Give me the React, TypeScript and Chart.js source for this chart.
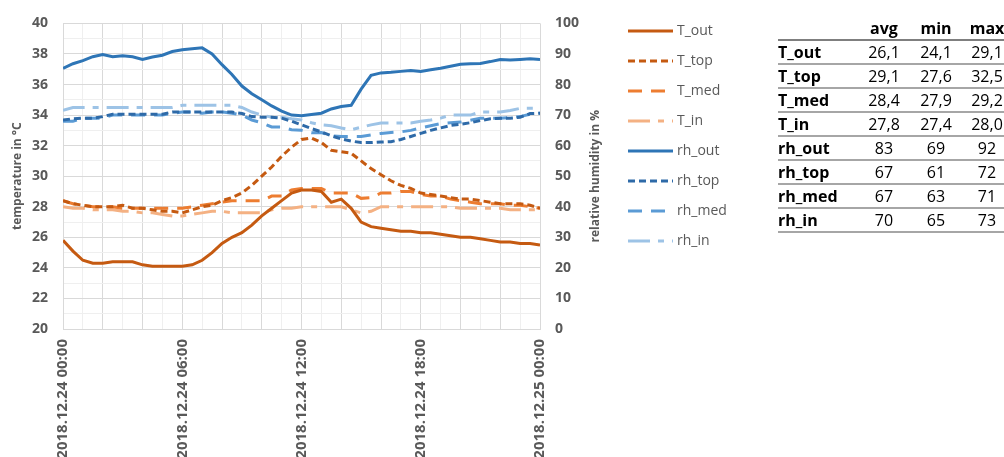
import React, { useEffect, useRef } from 'react';
import { Chart, registerables } from 'chart.js';

Chart.register(...registerables);

// ---------- data ----------
const hours = [0, 0.5, 1, 1.5, 2, 2.5, 3, 3.5, 4, 4.5, 5, 5.5, 6, 6.5, 7, 7.5, 8, 8.5, 9, 9.5, 10, 10.5, 11, 11.5, 12, 12.5, 13, 13.5, 14, 14.5, 15, 15.5, 16, 16.5, 17, 17.5, 18, 18.5, 19, 19.5, 20, 20.5, 21, 21.5, 22, 22.5, 23, 23.5, 24];

const T_out = [25.8, 25.1, 24.5, 24.3, 24.3, 24.4, 24.4, 24.4, 24.2, 24.1, 24.1, 24.1, 24.1, 24.2, 24.5, 25.0, 25.6, 26.0, 26.3, 26.8, 27.4, 27.9, 28.4, 28.9, 29.1, 29.1, 29.0, 28.3, 28.5, 27.9, 27.0, 26.7, 26.6, 26.5, 26.4, 26.4, 26.3, 26.3, 26.2, 26.1, 26.0, 26.0, 25.9, 25.8, 25.7, 25.7, 25.6, 25.6, 25.5];
const T_top = [28.4, 28.2, 28.1, 28.0, 28.0, 28.0, 28.1, 27.9, 27.9, 27.8, 27.7, 27.7, 27.6, 27.8, 28.0, 28.1, 28.4, 28.6, 28.9, 29.4, 30.0, 30.6, 31.3, 31.9, 32.4, 32.5, 32.2, 31.7, 31.6, 31.5, 31.0, 30.5, 30.1, 29.7, 29.4, 29.2, 28.9, 28.8, 28.7, 28.6, 28.5, 28.5, 28.4, 28.3, 28.2, 28.2, 28.2, 28.1, 27.9];
const T_med = [28.4, 28.2, 28.1, 28.0, 28.0, 28.0, 27.9, 27.9, 27.9, 27.9, 27.9, 27.9, 27.9, 28.0, 28.1, 28.2, 28.3, 28.4, 28.4, 28.4, 28.4, 28.7, 28.7, 29.1, 29.2, 29.2, 29.2, 28.9, 28.9, 28.9, 28.55, 28.6, 28.9, 28.9, 29.0, 29.0, 28.8, 28.7, 28.7, 28.5, 28.4, 28.3, 28.2, 28.2, 28.2, 28.1, 28.1, 28.0, 27.9];
const T_in = [28.0, 27.9, 27.9, 27.8, 27.8, 27.8, 27.7, 27.7, 27.6, 27.6, 27.5, 27.4, 27.4, 27.5, 27.6, 27.7, 27.7, 27.6, 27.6, 27.6, 27.6, 27.8, 27.9, 27.9, 28.0, 28.0, 28.0, 28.0, 28.0, 27.8, 27.6, 27.7, 28.0, 28.0, 28.0, 28.0, 28.0, 28.0, 28.0, 28.0, 27.9, 27.9, 27.9, 27.9, 27.9, 27.8, 27.8, 27.8, 27.8];
const rh_out = [85.3, 86.8, 87.8, 89.1, 89.8, 89.1, 89.4, 89.1, 88.2, 89.0, 89.6, 90.8, 91.4, 91.7, 92.0, 90.0, 86.5, 83.3, 79.5, 77.0, 75.0, 73.0, 71.3, 70.0, 69.8, 70.2, 70.6, 72.0, 72.8, 73.2, 78.5, 83.0, 83.8, 84.0, 84.3, 84.6, 84.3, 84.8, 85.3, 86.0, 86.6, 86.8, 86.9, 87.5, 88.2, 88.0, 88.2, 88.4, 88.2];
const rh_top = [68.4, 68.8, 69.0, 69.0, 69.5, 70.3, 70.3, 70.3, 70.3, 70.3, 70.3, 71.0, 71.0, 71.0, 71.0, 71.0, 71.0, 71.0, 70.5, 69.5, 69.3, 69.3, 69.0, 68.0, 66.8, 65.6, 64.5, 63.2, 62.2, 61.5, 61.0, 61.0, 61.2, 61.3, 62.0, 63.0, 64.0, 65.0, 65.8, 66.6, 67.0, 67.5, 68.2, 68.8, 69.0, 69.0, 69.3, 70.5, 70.6];
const rh_med = [68.0, 68.0, 69.0, 69.0, 69.0, 70.0, 70.0, 70.0, 70.0, 70.0, 70.0, 70.6, 71.0, 71.0, 70.6, 71.0, 71.0, 70.6, 70.0, 68.4, 67.5, 66.1, 66.1, 65.2, 65.0, 64.2, 64.3, 63.2, 63.0, 63.0, 63.0, 63.5, 64.0, 64.3, 64.5, 65.0, 65.8, 66.5, 67.2, 67.5, 67.7, 68.3, 69.0, 69.0, 69.0, 69.2, 69.5, 70.3, 70.6];
const rh_in = [71.6, 72.5, 72.5, 72.5, 72.5, 72.5, 72.5, 72.5, 72.5, 72.5, 72.5, 72.5, 73.2, 73.2, 73.2, 73.2, 73.2, 73.2, 72.5, 71.0, 70.0, 69.3, 69.3, 68.8, 68.4, 67.5, 66.8, 66.5, 65.8, 65.2, 66.0, 66.8, 67.4, 67.4, 67.4, 67.4, 68.0, 68.4, 69.0, 70.0, 70.0, 70.0, 71.0, 71.0, 71.0, 71.5, 72.2, 72.2, 72.2];

const seriesNames = ['T_out', 'T_top', 'T_med', 'T_in', 'rh_out', 'rh_top', 'rh_med', 'rh_in'];
const seriesValues = [T_out, T_top, T_med, T_in, rh_out, rh_top, rh_med, rh_in];

const xTickHours = [0, 6, 12, 18, 24];
const xTickLabels = ['2018.12.24 00:00', '2018.12.24 06:00', '2018.12.24 12:00', '2018.12.24 18:00', '2018.12.25 00:00'];

const leftAxisTitle = 'temperature in °C';
const rightAxisTitle = 'relative humidity in %';

const statHeaders = ['avg', 'min', 'max'];
const statAvg = ['26,1', '29,1', '28,4', '27,8', '83', '67', '67', '70'];
const statMin = ['24,1', '27,6', '27,9', '27,4', '69', '61', '63', '65'];
const statMax = ['29,1', '32,5', '29,2', '28,0', '92', '72', '71', '73'];

// ---------- styles ----------
const seriesColors = ['#C55A11', '#C55A11', '#ED7D31', '#F4B183', '#2E75B6', '#2E6AA8', '#5B9BD5', '#9DC3E6'];
const seriesDashes = [[], [7, 4], [14, 9], [22, 8, 6, 8], [], [7, 4], [14, 9], [22, 8, 6, 8]];
const seriesAxis = ['y', 'y', 'y', 'y', 'y2', 'y2', 'y2', 'y2'];

const FONT = '"Open Sans", "Liberation Sans", sans-serif';
const TEXT_GREY = '#595959';

const gridColor = (ctx: any) => {
  const v = ctx.tick ? ctx.tick.value : 0;
  return Math.round(v) % 2 === 0 ? '#D9D9D9' : '#EFEFEF';
};

const overlayPlugin = {
  id: 'overlay',
  afterDraw(chart: any) {
    const ctx = chart.ctx;
    const area = chart.chartArea;
    const midY = (area.top + area.bottom) / 2;
    ctx.save();
    // axis titles (both read bottom-to-top)
    ctx.fillStyle = TEXT_GREY;
    ctx.font = `bold 12px ${FONT}`;
    ctx.textAlign = 'center';
    ctx.textBaseline = 'middle';
    ctx.save();
    ctx.translate(18, midY);
    ctx.rotate(-Math.PI / 2);
    ctx.fillText(leftAxisTitle, 0, 0);
    ctx.restore();
    ctx.save();
    ctx.translate(596, midY);
    ctx.rotate(-Math.PI / 2);
    ctx.fillText(rightAxisTitle, 0, 0);
    ctx.restore();

    // legend
    const lx = 628;
    const ly = 31;
    const step = 30;
    chart.data.datasets.forEach((ds: any, i: number) => {
      const y = ly + i * step;
      ctx.save();
      ctx.strokeStyle = ds.borderColor;
      ctx.lineWidth = 3;
      ctx.setLineDash(ds.borderDash || []);
      ctx.beginPath();
      ctx.moveTo(lx, y);
      ctx.lineTo(lx + 45, y);
      ctx.stroke();
      ctx.restore();
      ctx.fillStyle = TEXT_GREY;
      ctx.font = `14px ${FONT}`;
      ctx.textAlign = 'left';
      ctx.textBaseline = 'middle';
      ctx.fillText(ds.label, lx + 49, y);
    });
    ctx.restore();
  },
};

function StatsTable() {
  const rowTop0 = 41;
  const rowH = 24;
  const cellBase: React.CSSProperties = {
    position: 'absolute',
    top: 0,
    height: 22,
    lineHeight: '22px',
    textAlign: 'center',
  };
  const cols = [
    { left: 82, width: 48 },
    { left: 130, width: 56 },
    { left: 186, width: 46 },
  ];
  return (
    <div
      style={{
        position: 'absolute',
        left: 778,
        top: 0,
        width: 240,
        height: 250,
        fontFamily: FONT,
        fontSize: 16,
        color: '#000',
      }}
    >
      <div style={{ position: 'absolute', left: 0, top: 17, width: 240, height: 22, borderBottom: '2px solid #7F7F7F' }}>
        {statHeaders.map((h, j) => (
          <div key={h} style={{ ...cellBase, left: cols[j].left, width: cols[j].width, fontWeight: 'bold' }}>
            {h}
          </div>
        ))}
      </div>
      {seriesNames.map((name, i) => (
        <div
          key={name}
          style={{
            position: 'absolute',
            left: 0,
            top: rowTop0 + i * rowH,
            width: 240,
            height: 22,
            borderBottom: '2px solid #A6A6A6',
          }}
        >
          <div style={{ ...cellBase, left: 0, width: 82, textAlign: 'left', fontWeight: 'bold' }}>{name}</div>
          {[statAvg[i], statMin[i], statMax[i]].map((v, j) => (
            <div key={j} style={{ ...cellBase, left: cols[j].left, width: cols[j].width }}>
              {v}
            </div>
          ))}
        </div>
      ))}
    </div>
  );
}

export default function App() {
  const canvasRef = useRef<HTMLCanvasElement | null>(null);

  useEffect(() => {
    if (!canvasRef.current) return;
    const datasets = seriesNames.map((name, i) => ({
      label: name,
      data: hours.map((h, k) => ({ x: h, y: seriesValues[i][k] })),
      borderColor: seriesColors[i],
      backgroundColor: seriesColors[i],
      borderWidth: 3,
      borderDash: seriesDashes[i],
      pointRadius: 0,
      tension: 0,
      fill: false,
      yAxisID: seriesAxis[i],
    }));

    const tickFont = { family: FONT, size: 14, weight: 'bold' as const };
    const xTickFont = { family: FONT, size: 15, weight: 'bold' as const };

    const chart = new Chart(canvasRef.current, {
      type: 'line',
      data: { datasets },
      options: {
        responsive: false,
        animation: false,
        events: [],
        layout: { padding: { top: 16, left: 0, right: 0, bottom: 0 } },
        plugins: {
          legend: { display: false },
          tooltip: { enabled: false },
          title: { display: false },
        },
        scales: {
          x: {
            type: 'linear',
            min: 0,
            max: 24,
            position: 'bottom',
            afterFit: (s: any) => {
              s.height = 128;
            },
            grid: { color: gridColor, drawTicks: false, lineWidth: 1 },
            border: { color: '#D9D9D9' },
            ticks: {
              stepSize: 1,
              autoSkip: false,
              maxRotation: 90,
              minRotation: 90,
              padding: 10,
              font: xTickFont,
              color: TEXT_GREY,
              callback: (v: any) => {
                const idx = xTickHours.indexOf(Number(v));
                return idx >= 0 ? xTickLabels[idx] : '';
              },
            },
          },
          y: {
            position: 'left',
            min: 20,
            max: 40,
            afterFit: (s: any) => {
              s.width = 63;
            },
            grid: { color: gridColor, drawTicks: false, lineWidth: 1 },
            border: { color: '#D9D9D9' },
            ticks: {
              stepSize: 1,
              autoSkip: false,
              padding: 15,
              font: tickFont,
              color: TEXT_GREY,
              callback: (v: any) => (Number(v) % 2 === 0 ? String(v) : ''),
            },
          },
          y2: {
            position: 'right',
            min: 0,
            max: 100,
            afterFit: (s: any) => {
              s.width = 464;
            },
            grid: { display: false, drawTicks: false },
            border: { display: false },
            ticks: {
              stepSize: 10,
              autoSkip: false,
              padding: 15,
              font: tickFont,
              color: TEXT_GREY,
            },
          },
        },
      },
      plugins: [overlayPlugin],
    });
    return () => chart.destroy();
  }, []);

  return (
    <div style={{ position: 'absolute', left: 0, top: 0, width: 1004, height: 457, overflow: 'hidden', background: '#fff' }}>
      <canvas ref={canvasRef} width={1004} height={457} style={{ display: 'block', width: 1004, height: 457 }} />
      <StatsTable />
    </div>
  );
}
